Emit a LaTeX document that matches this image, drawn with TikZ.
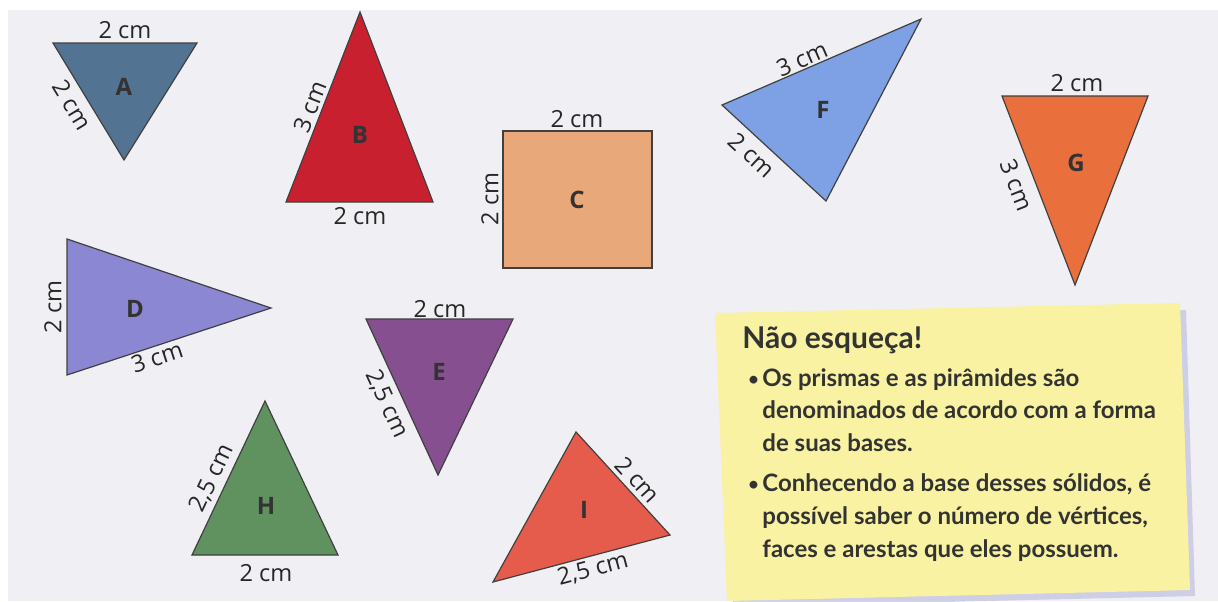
\documentclass[tikz,border=0pt]{standalone}
\usepackage{fontspec}
\setmainfont{Open Sans}
\newfontfamily\notefont{Lato}
\usepackage{tikz}
\usetikzlibrary{positioning}
\definecolor{paper}{RGB}{240,239,243}
\definecolor{colA}{RGB}{82,116,146}
\definecolor{colB}{RGB}{200,32,46}
\definecolor{colC}{RGB}{233,168,122}
\definecolor{colD}{RGB}{140,135,210}
\definecolor{colE}{RGB}{134,80,144}
\definecolor{colF}{RGB}{126,160,228}
\definecolor{colG}{RGB}{233,112,60}
\definecolor{colH}{RGB}{96,146,96}
\definecolor{colI}{RGB}{230,92,76}
\definecolor{postit}{RGB}{248,242,162}

\begin{document}
\begin{tikzpicture}[x=0.5pt,y=-0.5pt,
  shp/.style={draw=black!75,line width=0.6pt},
  lbl/.style={font=\fontsize{11.8}{13}\selectfont,text=black!85,inner sep=0pt},
  tag/.style={font=\bfseries\fontsize{12}{14}\selectfont,text=black!80,inner sep=0pt},
  notetxt/.style={font=\notefont\bfseries\fontsize{12}{14}\selectfont,text=black!80,anchor=base west,inner sep=0pt}]
  \useasboundingbox (0,0) rectangle (1218,601);
  \fill[white] (0,0) rectangle (1218,601);
  \fill[paper] (8,10) rectangle (1218,601);

  % A
  \coordinate (a1) at (53,43);
  \coordinate (a2) at (197,43);
  \coordinate (a3) at (124,160);
  \draw[shp,fill=colA] (a1) -- (a2) -- (a3) -- cycle;
  \node[tag] (A) at (124,87) {A};
  \node[lbl] (A1) at (125,30) {2 cm};
  \node[lbl,rotate=-58.7] (A2) at (72,105) {2 cm};

  % B
  \coordinate (b1) at (360,12);
  \coordinate (b2) at (286,202);
  \coordinate (b3) at (433,202);
  \draw[shp,fill=colB] (b1) -- (b2) -- (b3) -- cycle;
  \node[tag] (B) at (360,135) {B};
  \node[lbl,rotate=68.7] (B1) at (310,107) {3 cm};
  \node[lbl] (B2) at (360,216) {2 cm};

  % C
  \coordinate (c1) at (503,131);
  \coordinate (c2) at (652,268);
  \draw[shp,fill=colC] (c1) rectangle (c2);
  \node[tag] (C) at (577,200) {C};
  \node[lbl] (C1) at (577,119) {2 cm};
  \node[lbl,rotate=90] (C2) at (490,199) {2 cm};

  % D
  \coordinate (d1) at (67,239);
  \coordinate (d2) at (67,375);
  \coordinate (d3) at (271,308);
  \draw[shp,fill=colD] (d1) -- (d2) -- (d3) -- cycle;
  \node[tag] (D) at (135,309) {D};
  \node[lbl,rotate=90] (D1) at (53,307) {2 cm};
  \node[lbl,rotate=18.2] (D2) at (157,357) {3 cm};

  % E
  \coordinate (e1) at (366,319);
  \coordinate (e2) at (513,319);
  \coordinate (e3) at (438,475);
  \draw[shp,fill=colE] (e1) -- (e2) -- (e3) -- cycle;
  \node[tag] (E) at (439,372) {E};
  \node[lbl] (E1) at (440,309) {2 cm};
  \node[lbl,rotate=-65.2] (E2) at (387,404) {2,5 cm};

  % F
  \coordinate (f1) at (722,105);
  \coordinate (f2) at (921,19);
  \coordinate (f3) at (826,201);
  \draw[shp,fill=colF] (f1) -- (f2) -- (f3) -- cycle;
  \node[tag] (F) at (823,110) {F};
  \node[lbl,rotate=23.4] (F1) at (802,59) {3 cm};
  \node[lbl,rotate=-42.7] (F2) at (752,155) {2 cm};

  % G
  \coordinate (g1) at (1002,96);
  \coordinate (g2) at (1148,96);
  \coordinate (g3) at (1075,285);
  \draw[shp,fill=colG] (g1) -- (g2) -- (g3) -- cycle;
  \node[tag] (G) at (1076,163) {G};
  \node[lbl] (G1) at (1077,83) {2 cm};
  \node[lbl,rotate=-68.6] (G2) at (1017,185) {3 cm};

  % H
  \coordinate (h1) at (265,401);
  \coordinate (h2) at (192,555);
  \coordinate (h3) at (338,555);
  \draw[shp,fill=colH] (h1) -- (h2) -- (h3) -- cycle;
  \node[tag] (H) at (266,506) {H};
  \node[lbl,rotate=64.6] (H1) at (212,478) {2,5 cm};
  \node[lbl] (H2) at (266,573) {2 cm};

  % I
  \coordinate (i1) at (576,432);
  \coordinate (i2) at (670,535);
  \coordinate (i3) at (493,582);
  \draw[shp,fill=colI] (i1) -- (i2) -- (i3) -- cycle;
  \node[tag] (I) at (584,510) {I};
  \node[lbl,rotate=-47.6] (I1) at (638,480) {2 cm};
  \node[lbl,rotate=14.9] (I2) at (593,569) {2,5 cm};

  % nota
  \fill[gray!60!blue!40,opacity=0.6] (722,320) -- (1186,310) -- (1195,596) -- (733,607) -- cycle;
  \fill[postit] (715,313) -- (1180,303) -- (1190,590) -- (727,601) -- cycle;
  \node[notetxt,font=\notefont\bfseries\fontsize{15}{18}\selectfont] (tit) at (742,348) {Não esqueça!};
  \node[notetxt,font=\notefont\bfseries\fontsize{9}{10}\selectfont] (dot1) at (748,385) {•};
  \node[notetxt] (l1) at (762,386) {Os prismas e as pirâmides são};
  \node[notetxt] (l2) at (762,418) {denominados de acordo com a forma};
  \node[notetxt] (l3) at (762,451) {de suas bases.};
  \node[notetxt,font=\notefont\bfseries\fontsize{9}{10}\selectfont] (dot2) at (748,490) {•};
  \node[notetxt] (l4) at (762,491) {Conhecendo a base desses sólidos, é};
  \node[notetxt] (l5) at (762,524) {possível saber o número de vértices,};
  \node[notetxt] (l6) at (762,557) {faces e arestas que eles possuem.};
\end{tikzpicture}
\end{document}
